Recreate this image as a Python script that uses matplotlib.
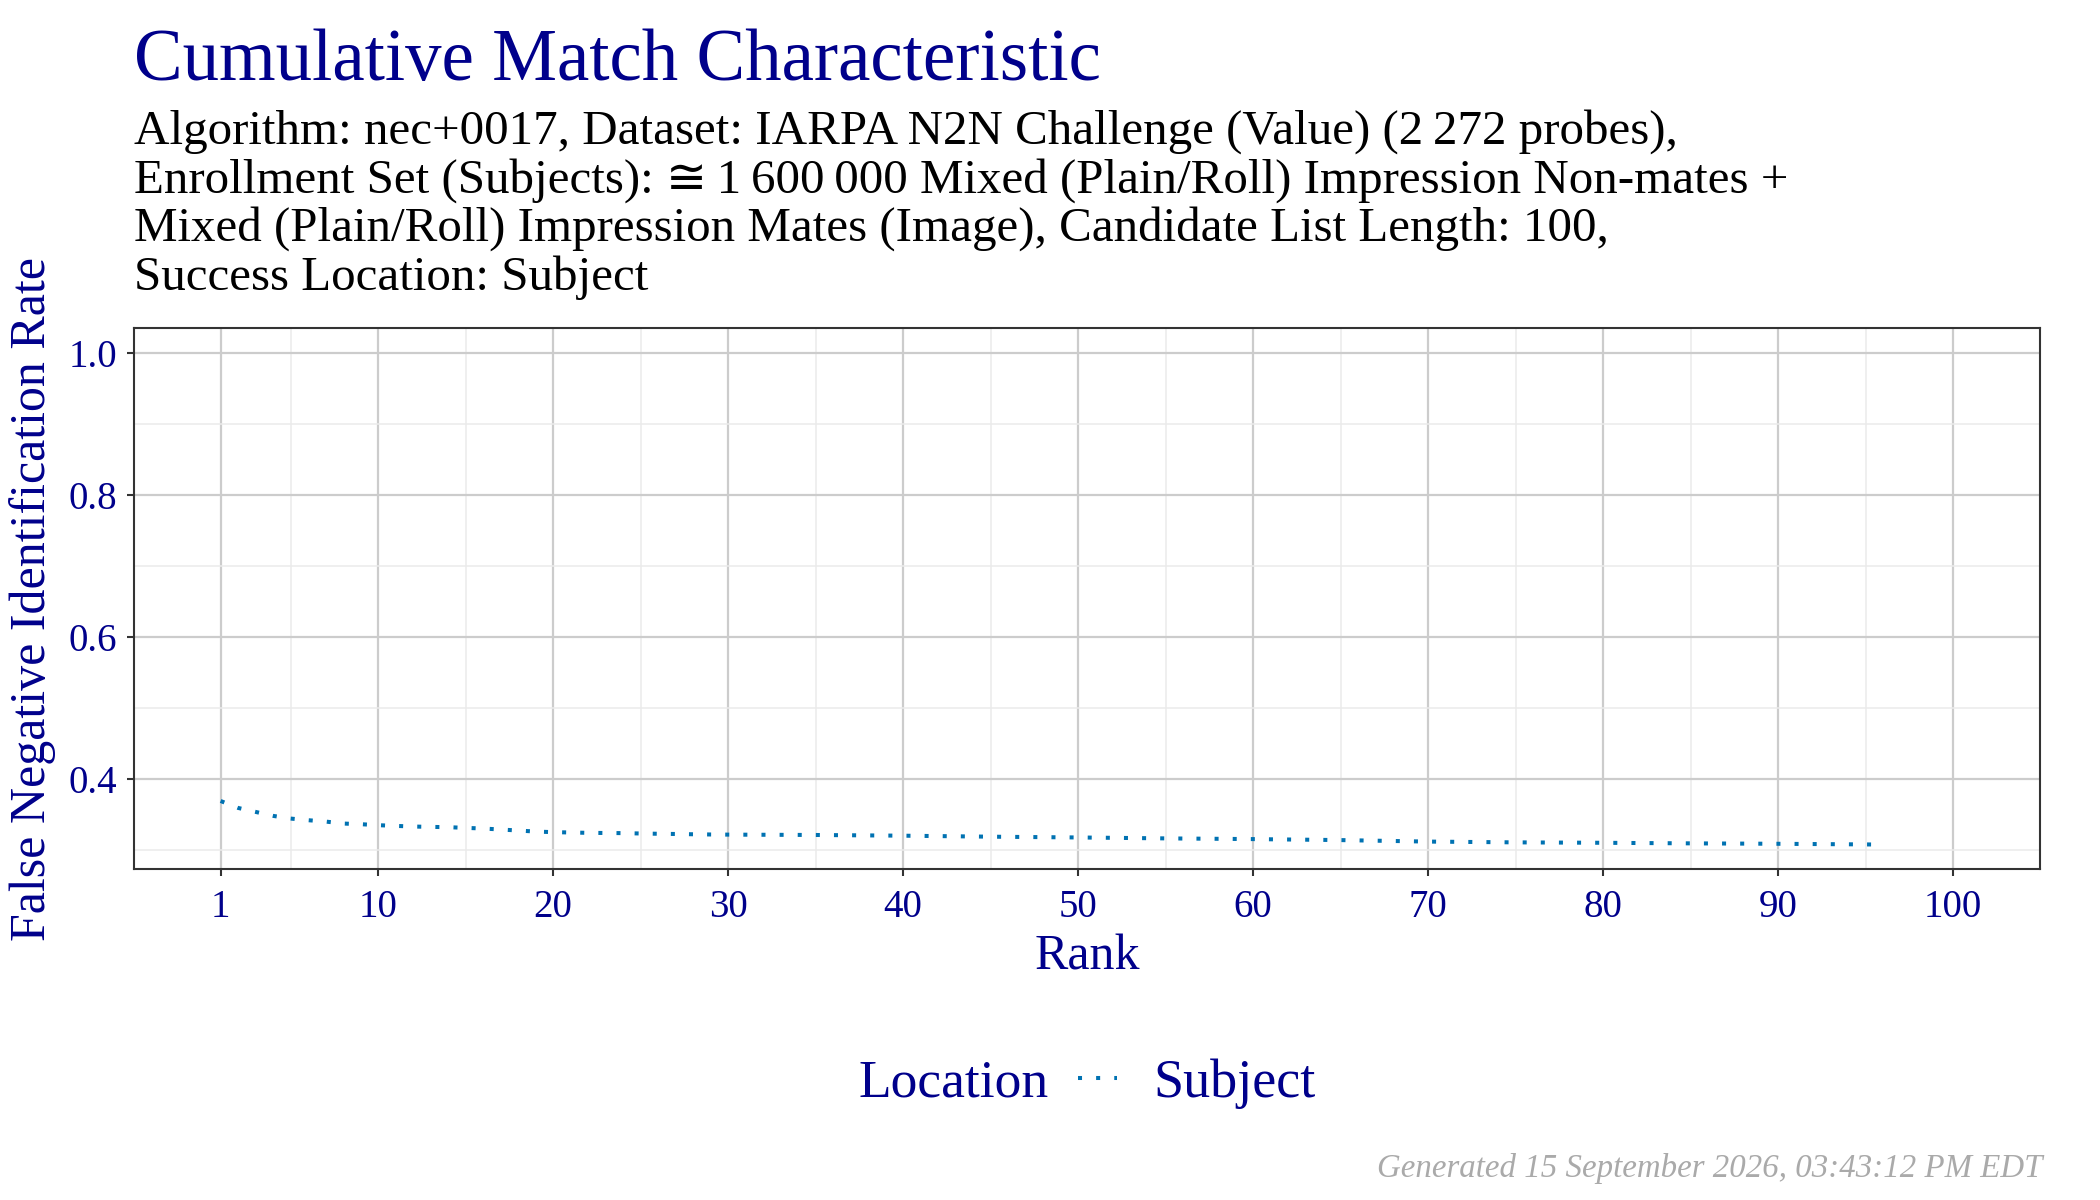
import matplotlib
matplotlib.use("Agg")
import matplotlib.pyplot as plt
from matplotlib.ticker import FixedLocator

# CMC curve (rank -> FNIR)
rank = [1, 2, 3, 4, 5, 6, 7, 8, 9, 10,
        11, 12, 13, 14, 15, 16, 17, 18, 19, 20,
        21, 22, 23, 24, 25, 26, 27, 28, 29, 30,
        35, 40, 45, 50, 55, 60, 65, 70, 75, 80, 85, 90, 95, 96]
fnir = [0.3687, 0.3589, 0.3533, 0.3477, 0.3439, 0.3416, 0.3397, 0.3369, 0.3360, 0.3346,
        0.3336, 0.3327, 0.3322, 0.3318, 0.3308, 0.3299, 0.3285, 0.3271, 0.3256, 0.3248,
        0.3243, 0.3238, 0.3236, 0.3234, 0.3229, 0.3225, 0.3222, 0.3218, 0.3215, 0.3213,
        0.3208, 0.3198, 0.3184, 0.3173, 0.3160, 0.3150, 0.3136, 0.3115, 0.3104, 0.3098,
        0.3090, 0.3084, 0.3075, 0.3073]

x_ticks = [1, 10, 20, 30, 40, 50, 60, 70, 80, 90, 100]
x_minor = [5, 15, 25, 35, 45, 55, 65, 75, 85, 95]
y_ticks = [0.4, 0.6, 0.8, 1.0]
y_minor = [0.3, 0.5, 0.7, 0.9]

title = "Cumulative Match Characteristic"
subtitle = ["Algorithm: nec+0017, Dataset: IARPA N2N Challenge (Value) (2\u2009272 probes),",
            "Enrollment Set (Subjects): \u2245\u20091\u2009600\u2009000 Mixed (Plain/Roll) Impression Non-mates +",
            "Mixed (Plain/Roll) Impression Mates (Image), Candidate List Length: 100,",
            "Success Location: Subject"]
footer = "Generated 15 September 2026, 03:43:12 PM EDT"

navy = "#00008B"
blue = "#0072B2"
plt.rcParams['font.family'] = ['Liberation Serif', 'DejaVu Serif', 'DejaVu Sans']

fig = plt.figure(figsize=(21, 12), dpi=100)
L, R, B, T = 0.0638, 0.9713, 0.2757, 0.7266
ax = fig.add_axes([L, B, R - L, T - B])

line, = ax.plot(rank, fnir, color=blue, lw=2.9, linestyle=(0, (1, 3.5)),
                dash_capstyle='butt', label="Subject")

xr = max(x_ticks) - min(x_ticks)
ax.set_xlim(min(x_ticks) - 0.05 * xr, max(x_ticks) + 0.05 * xr)
lo = min(fnir)
yr = 1.0 - lo
ax.set_ylim(lo - 0.05 * yr, 1.0 + 0.05 * yr)

ax.xaxis.set_major_locator(FixedLocator(x_ticks))
ax.xaxis.set_minor_locator(FixedLocator(x_minor))
ax.yaxis.set_major_locator(FixedLocator(y_ticks))
ax.yaxis.set_minor_locator(FixedLocator(y_minor))
ax.set_yticklabels(["%.1f" % v for v in y_ticks])

ax.grid(True, which='major', color='#CCCCCC', lw=1.6)
ax.grid(True, which='minor', color='#EBEBEB', lw=1.1)
ax.set_axisbelow(True)
for s in ax.spines.values():
    s.set_color('#333333')
    s.set_linewidth(1.5)
ax.tick_params(which='major', length=5, width=1.5, color='#333333',
               labelcolor=navy, labelsize=28, pad=7)
ax.tick_params(axis='x', which='major', pad=9)
ax.tick_params(which='minor', length=0)

ax.set_xlabel("Rank", color=navy, fontsize=36, labelpad=6)
ax.set_ylabel("False Negative Identification Rate", color=navy, fontsize=36, labelpad=9)

fig.text(L, 0.933, title, color=navy, fontsize=52.5, va='baseline', ha='left')
for i, s in enumerate(subtitle):
    fig.text(L, 0.8806 - i * 0.0407, s, color='black', fontsize=35.3,
             va='baseline', ha='left')

fig.text(0.4994, 0.097, "Location", color=navy, fontsize=38.5, ha='right', va='center')
fig.legend(handles=[line], labels=["Subject"], loc='center left',
           bbox_to_anchor=(0.5134, 0.097), frameon=False, fontsize=39,
           handlelength=0.72, handletextpad=0.67, borderpad=0, borderaxespad=0,
           labelcolor=navy)

fig.text(0.9726, 0.019, footer, color='#AAAAAA', fontsize=23.7, style='italic',
         ha='right', va='baseline')

fig.savefig("out.png", dpi=100)
